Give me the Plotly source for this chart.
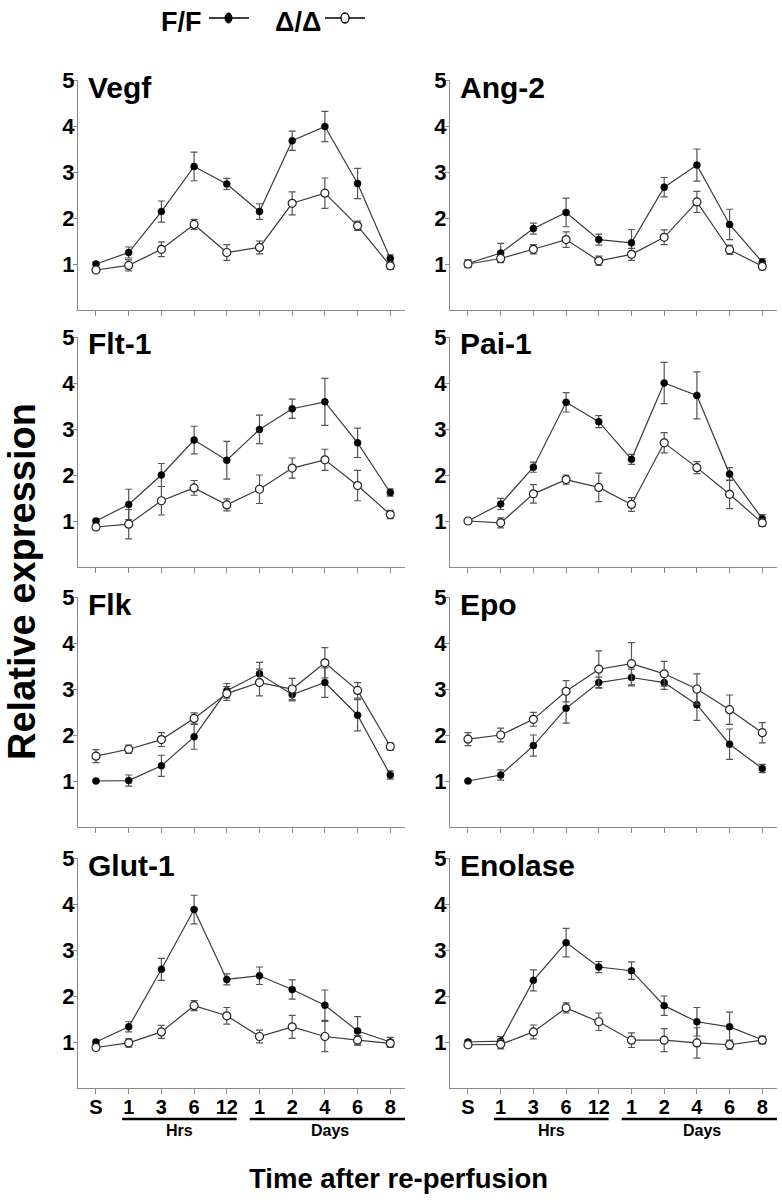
import plotly.graph_objects as go

# ---------------- data ----------------
time_labels = ["S", "1", "3", "6", "12", "1", "2", "4", "6", "8"]
genes = ["Vegf", "Ang-2", "Flt-1", "Pai-1", "Flk", "Epo", "Glut-1", "Enolase"]

vegf_ff = [1.00, 1.25, 2.14, 3.12, 2.74, 2.14, 3.68, 3.99, 2.75, 1.12]
vegf_ff_err = [0.04, 0.12, 0.23, 0.31, 0.12, 0.17, 0.21, 0.33, 0.33, 0.08]
vegf_dd = [0.87, 0.97, 1.32, 1.86, 1.25, 1.36, 2.32, 2.54, 1.83, 0.96]
vegf_dd_err = [0.05, 0.12, 0.16, 0.11, 0.17, 0.14, 0.25, 0.33, 0.10, 0.08]

ang2_ff = [1.01, 1.24, 1.77, 2.12, 1.53, 1.46, 2.67, 3.15, 1.86, 1.04]
ang2_ff_err = [0.08, 0.21, 0.12, 0.31, 0.12, 0.29, 0.21, 0.35, 0.33, 0.08]
ang2_dd = [1.00, 1.12, 1.32, 1.53, 1.07, 1.21, 1.58, 2.35, 1.31, 0.95]
ang2_dd_err = [0.08, 0.07, 0.10, 0.17, 0.10, 0.13, 0.16, 0.23, 0.10, 0.08]

flt1_ff = [1.00, 1.36, 2.00, 2.76, 2.32, 2.99, 3.44, 3.59, 2.70, 1.62]
flt1_ff_err = [0.04, 0.33, 0.25, 0.30, 0.41, 0.31, 0.21, 0.51, 0.32, 0.08]
flt1_dd = [0.87, 0.93, 1.44, 1.72, 1.35, 1.69, 2.15, 2.33, 1.77, 1.14]
flt1_dd_err = [0.06, 0.32, 0.31, 0.16, 0.13, 0.31, 0.22, 0.23, 0.33, 0.09]

pai1_ff = [1.00, 1.37, 2.17, 3.58, 3.16, 2.34, 4.00, 3.73, 2.02, 1.05]
pai1_ff_err = [0.02, 0.12, 0.11, 0.21, 0.13, 0.11, 0.45, 0.51, 0.14, 0.09]
pai1_dd = [1.00, 0.96, 1.59, 1.90, 1.73, 1.36, 2.70, 2.16, 1.58, 0.96]
pai1_dd_err = [0.02, 0.11, 0.20, 0.10, 0.31, 0.15, 0.22, 0.13, 0.31, 0.08]

flk_ff = [1.00, 1.01, 1.33, 1.96, 2.96, 3.33, 2.88, 3.14, 2.43, 1.13]
flk_ff_err = [0.02, 0.12, 0.23, 0.27, 0.16, 0.25, 0.14, 0.32, 0.34, 0.09]
flk_dd = [1.54, 1.69, 1.90, 2.36, 2.90, 3.14, 3.00, 3.57, 2.97, 1.75]
flk_dd_err = [0.14, 0.09, 0.15, 0.12, 0.15, 0.29, 0.23, 0.33, 0.17, 0.08]

epo_ff = [1.00, 1.13, 1.77, 2.58, 3.14, 3.25, 3.14, 2.66, 1.80, 1.27]
epo_ff_err = [0.02, 0.11, 0.23, 0.32, 0.12, 0.18, 0.15, 0.34, 0.33, 0.09]
epo_dd = [1.91, 2.00, 2.34, 2.95, 3.43, 3.55, 3.33, 3.00, 2.55, 2.05]
epo_dd_err = [0.14, 0.15, 0.15, 0.23, 0.40, 0.46, 0.27, 0.33, 0.32, 0.22]

glut1_ff = [1.00, 1.33, 2.58, 3.88, 2.36, 2.44, 2.14, 1.80, 1.24, 1.00]
glut1_ff_err = [0.04, 0.11, 0.24, 0.31, 0.12, 0.19, 0.21, 0.33, 0.31, 0.10]
glut1_dd = [0.88, 0.98, 1.22, 1.79, 1.57, 1.12, 1.33, 1.12, 1.04, 0.97]
glut1_dd_err = [0.05, 0.09, 0.14, 0.11, 0.18, 0.14, 0.25, 0.33, 0.10, 0.08]

enolase_ff = [1.00, 1.02, 2.34, 3.16, 2.63, 2.55, 1.79, 1.44, 1.33, 1.05]
enolase_ff_err = [0.04, 0.10, 0.23, 0.31, 0.12, 0.19, 0.21, 0.31, 0.32, 0.08]
enolase_dd = [0.94, 0.95, 1.22, 1.74, 1.44, 1.04, 1.04, 0.98, 0.94, 1.04]
enolase_dd_err = [0.04, 0.10, 0.15, 0.11, 0.19, 0.16, 0.25, 0.33, 0.10, 0.08]

series_ff = [vegf_ff, ang2_ff, flt1_ff, pai1_ff, flk_ff, epo_ff, glut1_ff, enolase_ff]
series_ff_err = [vegf_ff_err, ang2_ff_err, flt1_ff_err, pai1_ff_err, flk_ff_err, epo_ff_err, glut1_ff_err, enolase_ff_err]
series_dd = [vegf_dd, ang2_dd, flt1_dd, pai1_dd, flk_dd, epo_dd, glut1_dd, enolase_dd]
series_dd_err = [vegf_dd_err, ang2_dd_err, flt1_dd_err, pai1_dd_err, flk_dd_err, epo_dd_err, glut1_dd_err, enolase_dd_err]

# ---------------- layout helpers ----------------
W, H = 782, 1200
FONT = "Liberation Sans Narrow, Arial Narrow, Liberation Sans, Arial, sans-serif"

def px_x(p):
    return p / W

def px_y(p):
    return 1 - p / H

row_px = [(80, 310), (337, 567), (597, 827), (858, 1088)]
col_px = [(78, 405), (450, 777)]

x_idx = list(range(len(time_labels)))

fig = go.Figure()
layout = {}
annotations = []
shapes = []

LINE_C = "#3a3a3a"
ERR_C = "#555555"
AX_C = "#8a8a8a"

for i, gene in enumerate(genes):
    r, c = divmod(i, 2)
    n = i + 1
    xa = "x" if n == 1 else f"x{n}"
    ya = "y" if n == 1 else f"y{n}"
    xkey = "xaxis" if n == 1 else f"xaxis{n}"
    ykey = "yaxis" if n == 1 else f"yaxis{n}"

    fig.add_trace(go.Scatter(
        x=x_idx, y=series_ff[i], xaxis=xa, yaxis=ya, mode="lines+markers",
        line=dict(color=LINE_C, width=1.2),
        marker=dict(symbol="circle", size=7, color="black", line=dict(color="black", width=0.5)),
        error_y=dict(type="data", array=series_ff_err[i], color=ERR_C, thickness=1.2, width=3.5),
        showlegend=False, cliponaxis=False,
    ))
    fig.add_trace(go.Scatter(
        x=x_idx, y=series_dd[i], xaxis=xa, yaxis=ya, mode="lines+markers",
        line=dict(color=LINE_C, width=1.2),
        marker=dict(symbol="circle", size=8, color="white", line=dict(color="#222222", width=1.2)),
        error_y=dict(type="data", array=series_dd_err[i], color=ERR_C, thickness=1.2, width=3.5),
        showlegend=False, cliponaxis=False,
    ))

    y0, y1 = row_px[r]
    x0, x1 = col_px[c]
    bottom = (r == 3)
    layout[xkey] = dict(
        domain=[px_x(x0), px_x(x1)], range=[-0.55, 9.45], anchor=ya, automargin=False,
        tickmode="array", tickvals=x_idx, ticktext=time_labels,
        showticklabels=bottom, ticks="outside", ticklen=5, tickwidth=1, tickcolor=AX_C,
        ticklabelstandoff=-4,
        showline=True, linecolor=AX_C, linewidth=1.2, showgrid=False, zeroline=False,
        tickfont=dict(family=FONT, size=20, color="black", weight="bold"),
        fixedrange=True,
    )
    layout[ykey] = dict(
        domain=[px_y(y1), px_y(y0)], range=[0, 5], anchor=xa, automargin=False,
        tickmode="array", tickvals=[1, 2, 3, 4, 5], ticktext=["1", "2", "3", "4", "5"],
        ticks="outside", ticklen=4, tickwidth=1, tickcolor=AX_C,
        ticklabelstandoff=-6,
        showline=True, linecolor=AX_C, linewidth=1.2, showgrid=False, zeroline=False,
        tickfont=dict(family=FONT, size=22, color="black", weight="bold"),
        fixedrange=True,
    )
    # panel title
    annotations.append(dict(
        text=gene, xref="paper", yref="paper", x=px_x(x0 + 8), y=px_y(y0 + 7),
        xanchor="left", yanchor="middle", showarrow=False,
        font=dict(family=FONT, size=30, color="black", weight="bold"),
    ))
    if bottom:
        # Hrs / Days underlines and labels
        yl = px_y(1119)
        shapes.append(dict(type="line", xref=xa, yref="paper", x0=0.8, x1=4.3, y0=yl, y1=yl,
                           line=dict(color="black", width=2.5)))
        shapes.append(dict(type="line", xref=xa, yref="paper", x0=4.7, x1=9.45, y0=yl, y1=yl,
                           line=dict(color="black", width=2.5)))
        annotations.append(dict(text="Hrs", xref=xa, yref="paper", x=2.55, y=px_y(1130),
                                xanchor="center", yanchor="middle", showarrow=False,
                                font=dict(family=FONT, size=16, color="black", weight="bold")))
        annotations.append(dict(text="Days", xref=xa, yref="paper", x=7.15, y=px_y(1130),
                                xanchor="center", yanchor="middle", showarrow=False,
                                font=dict(family=FONT, size=16, color="black", weight="bold")))

# axis titles
annotations.append(dict(text="Relative expression", xref="paper", yref="paper",
                        x=px_x(22), y=px_y(582), textangle=-90, xanchor="center", yanchor="middle",
                        showarrow=False, font=dict(family=FONT, size=38, color="black", weight="bold")))
annotations.append(dict(text="Time after re-perfusion", xref="paper", yref="paper",
                        x=px_x(399), y=px_y(1178), xanchor="center", yanchor="middle",
                        showarrow=False, font=dict(family=FONT, size=27.5, color="black", weight="bold")))

# legend (text + sample line/marker)
leg_y = 18
annotations.append(dict(text="F/F", xref="paper", yref="paper", x=px_x(181), y=px_y(22),
                        xanchor="center", yanchor="middle", showarrow=False,
                        font=dict(family=FONT, size=27, color="black", weight="bold")))
annotations.append(dict(text="Δ/Δ", xref="paper", yref="paper", x=px_x(298), y=px_y(22),
                        xanchor="center", yanchor="middle", showarrow=False,
                        font=dict(family=FONT, size=27, color="black", weight="bold")))
shapes.append(dict(type="line", xref="paper", yref="paper", x0=px_x(209), x1=px_x(249),
                   y0=px_y(leg_y), y1=px_y(leg_y), line=dict(color="black", width=1.5)))
shapes.append(dict(type="circle", xref="paper", yref="paper", x0=px_x(225), x1=px_x(232),
                   y0=px_y(leg_y + 5), y1=px_y(leg_y - 5), fillcolor="black", line=dict(color="black", width=1)))
shapes.append(dict(type="line", xref="paper", yref="paper", x0=px_x(325), x1=px_x(365),
                   y0=px_y(leg_y), y1=px_y(leg_y), line=dict(color="black", width=1.5)))
shapes.append(dict(type="circle", xref="paper", yref="paper", x0=px_x(341), x1=px_x(349),
                   y0=px_y(leg_y + 5), y1=px_y(leg_y - 5), fillcolor="white", line=dict(color="black", width=1.3)))

fig.update_layout(
    width=W, height=H, margin=dict(l=0, r=0, t=0, b=0, autoexpand=False),
    paper_bgcolor="white", plot_bgcolor="white",
    annotations=annotations, shapes=shapes, showlegend=False,
    font=dict(family=FONT, color="black"),
    **layout,
)

# remove the browser's default 8px body margin so the figure fills the window exactly
fig.write_html("out.html", config={"displayModeBar": False},
               post_script="document.body.style.margin='0';")
